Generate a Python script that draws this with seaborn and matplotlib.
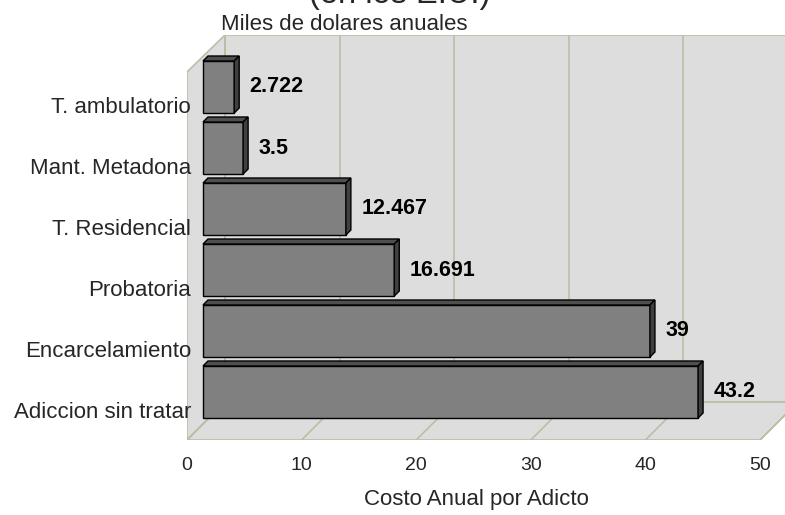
import matplotlib
matplotlib.use("Agg")
import matplotlib.pyplot as plt
import seaborn as sns
import pandas as pd
from matplotlib.patches import Polygon

categories = ["T. ambulatorio", "Mant. Metadona", "T. Residencial", "Probatoria",
              "Encarcelamiento", "Adiccion sin tratar"]
values = [2.722, 3.5, 12.467, 16.691, 39, 43.2]
value_labels = ["2.722", "3.5", "12.467", "16.691", "39", "43.2"]
x_ticks = [0, 10, 20, 30, 40, 50]
title = "(en los E.U.)"
subtitle = "Miles de dolares anuales"
xlabel = "Costo Anual por Adicto"

df = pd.DataFrame({"categoria": categories, "costo": values})

sns.set_theme(style="white")
plt.rcParams["font.family"] = ["Liberation Sans", "DejaVu Sans"]
narrow = ["Liberation Sans Narrow", "Liberation Sans", "DejaVu Sans"]

W, H = 785, 515
fig = plt.figure(figsize=(W / 100, H / 100), dpi=100)

# pixel layout of the pseudo-3D box
X0 = 203.0          # pixel of value 0 on bar plane
KX = 11.46          # pixels per unit
Y0 = 87.0           # pixel centre of first category
KY = 61.0           # pixels per category
left_px, right_px, top_px, bot_px = 187, 798, 35, 440

ax = fig.add_axes([left_px / W, 1 - bot_px / H, (right_px - left_px) / W, (bot_px - top_px) / H])

def dx(px):
    return (px - X0) / KX

def dy(py):
    return (py - Y0) / KY

wall_fc = "#DDDDDD"
edge_c = "#BDBDA6"
back_x0, back_y0 = 225, 35
back_y1 = 402
front_x0, front_y = 187, 440
span = 50 * KX

def poly(pts, **kw):
    p = Polygon([(dx(a), dy(b)) for a, b in pts], closed=True, **kw)
    ax.add_patch(p)
    return p

# back wall
poly([(back_x0, back_y0), (back_x0 + span, back_y0), (back_x0 + span, back_y1), (back_x0, back_y1)],
     facecolor=wall_fc, edgecolor=edge_c, lw=1.2, zorder=0)
# left wall
poly([(front_x0, 72), (back_x0, back_y0), (back_x0, back_y1), (front_x0, front_y)],
     facecolor=wall_fc, edgecolor=edge_c, lw=1.2, zorder=0)
# floor
poly([(front_x0, front_y), (front_x0 + span, front_y), (back_x0 + span, back_y1), (back_x0, back_y1)],
     facecolor=wall_fc, edgecolor=edge_c, lw=1.2, zorder=0)
for t in x_ticks:
    xb = back_x0 + t * KX
    xf = front_x0 + t * KX
    ax.plot([dx(xb), dx(xb)], [dy(back_y0), dy(back_y1)], color=edge_c, lw=1.2, zorder=0.5)
    ax.plot([dx(xf), dx(xb)], [dy(front_y), dy(back_y1)], color=edge_c, lw=1.2, zorder=0.5)

n_deco = len(ax.patches)

# bars
sns.barplot(data=df, x="costo", y="categoria", orient="h", color="#808080",
            width=52 / 61, edgecolor="black", linewidth=1.0, saturation=1, ax=ax, zorder=2)
ax.set_xlim(dx(left_px), dx(right_px))
ax.set_ylim(dy(bot_px), dy(top_px))
ax.axis("off")

ddx = 5 / KX
ddy = 5 / KY
for bar in list(ax.patches[n_deco:]):
    x0 = bar.get_x()
    x1 = x0 + bar.get_width()
    yt = bar.get_y()
    yb = yt + bar.get_height()
    ax.add_patch(Polygon([(x0, yt), (x0 + ddx, yt - ddy), (x1 + ddx, yt - ddy), (x1, yt)],
                         closed=True, facecolor="#4F4F4F", edgecolor="black", lw=1.0, zorder=2))
    ax.add_patch(Polygon([(x1, yt), (x1 + ddx, yt - ddy), (x1 + ddx, yb - ddy), (x1, yb)],
                         closed=True, facecolor="#404040", edgecolor="black", lw=1.0, zorder=2))

ax.bar_label(ax.containers[0], labels=value_labels, padding=11, fontsize=15.5,
             fontweight="bold", color="black")

# category labels
for i, c in enumerate(categories):
    fig.text(191 / W, 1 - (Y0 + KY * i + 20.5) / H, c, ha="right", va="center", fontsize=16)

# x tick labels
for t in x_ticks:
    fig.text((front_x0 + t * KX) / W, 1 - 465 / H, str(t), ha="center", va="center",
             fontsize=14, family=narrow)

fig.text(476 / W, 1 - 499 / H, xlabel, ha="center", va="center", fontsize=16)
fig.text(221 / W, 1 - 24 / H, subtitle, ha="left", va="center", fontsize=16)
fig.text(400 / W, 1 - 3 / H, title, ha="center", va="baseline", fontsize=23.5)

fig.savefig("out.png", dpi=100, facecolor="white")
